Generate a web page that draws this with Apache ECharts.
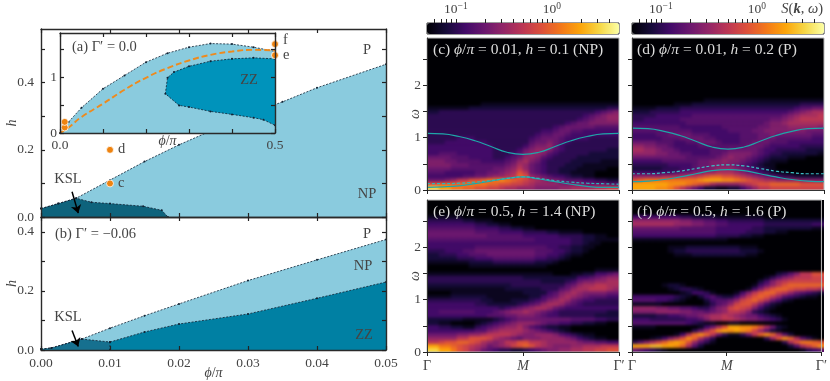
<!DOCTYPE html>
<html>
<head>
<meta charset="utf-8">
<style>
html,body{margin:0;background:#fff}
#stage{position:relative;width:830px;height:381px}
#heatClip{position:absolute;left:0;top:0;width:830px;height:381px;
  clip-path:path('M427 38h192v152h-192z M632 38h192v152h-192z M427 200h192v152h-192z M632 200h192v152h-192z')}
#heat{width:830px;height:381px;filter:blur(1.4px)}
#chart{position:absolute;left:0;top:0;width:830px;height:381px}
</style>
<script src="https://cdn.jsdelivr.net/npm/echarts@6/dist/echarts.min.js"></script>
</head>
<body>
<div id="stage">
<div id="heatClip"><div id="heat"></div></div>
<div id="chart"></div>
</div>
<script>
// phase diagram boundaries [phi/pi, h]
const upperA = [[0,0.025],[0.0025,0.04],[0.0051,0.056],[0.01,0.11],[0.015,0.165],[0.02,0.215],[0.03,0.305],[0.035,0.343],[0.04,0.385],[0.05,0.455]];
const kslA = [[0,0.025],[0.0025,0.04],[0.0051,0.056],[0.0073,0.044],[0.01,0.04],[0.0148,0.032],[0.0175,0.02],[0.0184,0]];
const upperB = [[0,0.003],[0.0015,0.007],[0.0059,0.037],[0.01,0.074],[0.015,0.116],[0.02,0.156],[0.03,0.235],[0.04,0.305],[0.05,0.374]];
const kslB = [[0,0.003],[0.0015,0.007],[0.0059,0.037],[0.01,0.027],[0.01,0]];
const zzB = [[0.01,0.027],[0.015,0.061],[0.02,0.088],[0.03,0.122],[0.04,0.175],[0.05,0.23]];
const insetUpper = [[0,0],[0.02,0.2],[0.05,0.455],[0.1,0.796],[0.15,1.036],[0.2,1.275],[0.25,1.437],[0.3,1.545],[0.35,1.61],[0.4,1.6],[0.45,1.545],[0.5,1.47]];
const insetZZ = [[0.5,1.335],[0.45,1.353],[0.4,1.335],[0.35,1.293],[0.3,1.2],[0.265,1.096],[0.25,0.994],[0.245,0.707],[0.277,0.497],[0.3,0.467],[0.35,0.389],[0.4,0.335],[0.45,0.275],[0.473,0.24],[0.5,0.138]];
const insetClassical = [[0,0],[0.02,0.1],[0.05,0.287],[0.1,0.527],[0.15,0.778],[0.2,0.994],[0.25,1.168],[0.3,1.305],[0.35,1.407],[0.4,1.467],[0.45,1.497],[0.5,1.485]];
const mainPoints = [[0.01,0.2],[0.01,0.1]];
const insetPoints = [[0.011,0.1],[0.011,0.2],[0.5,1.4],[0.5,1.6]];

// magnon branches on the spectra
const pathX = [0,0.083,0.167,0.25,0.333,0.417,0.5,0.583,0.667,0.75,0.833,0.917,1];
const cUpper = [1.08,1.07,1.02,0.94,0.83,0.72,0.68,0.72,0.83,0.94,1.02,1.07,1.08];
const cLower = [0.05,0.06,0.08,0.12,0.17,0.22,0.25,0.21,0.16,0.11,0.07,0.05,0.05];
const cDashed = [0.12,0.12,0.13,0.15,0.18,0.22,0.25,0.22,0.18,0.15,0.13,0.12,0.11];
const dUpper = [1.18,1.17,1.12,1.04,0.93,0.82,0.78,0.82,0.93,1.04,1.12,1.17,1.18];
const dLower = [0.16,0.17,0.2,0.25,0.31,0.37,0.39,0.37,0.31,0.25,0.2,0.17,0.16];
const dDashed = [0.31,0.31,0.33,0.36,0.41,0.46,0.48,0.46,0.41,0.36,0.33,0.31,0.31];

// spectra, 40 rows from omega=2.9 down to 0, 32 columns from Gamma to Gamma'
// one base-21 digit per cell, spaces are only for reading
const heatC = ['','','','','','','','','','','','','','','','','',
'00000000 01111111 11111111 11111111',
'11111112 22222222 22222222 22222233',
'22333333 33333333 33333333 33334567',
'33333333 33333333 33333333 33456788',
'33333333 33333333 33333333 34567788',
'33333333 33333333 33333334 56677777',
'33333333 33333333 33333456 66665555',
'33333333 33333333 33344566 55444444',
'33333333 33333333 33455665 44444444',
'33333444 33333333 34566654 44433333',
'33344444 44333333 35667654 33333333',
'44444444 44433333 46778643 33333333',
'44444444 44433334 67887543 33333322',
'44555444 44433345 78875433 33322222',
'66665554 44433456 88754333 32222222',
'77766555 54444568 97643333 22222111',
'77776665 55555679 86543332 22111111',
'66665555 5556678a 86543322 21111100',
'55544444 5566789c a6543322 11110000',
'44444455 667889ad c8765443 22110000',
'66678aac cdeefedc ba987765 55443322',
'ccddddee eeddccbb a9888877 77666655',
'iiggeedd ccbba998 88777788 9999aabb'];
const heatD = ['','','','','','','','','','','','','','','','',
'00000000 00001111 11111111 11111111',
'00000001 11222222 22222222 22223333',
'11112222 33333333 33333333 33345566',
'22233333 44444444 44444444 44567899',
'33334444 44555555 55555555 5678999a',
'33444444 55555555 55555556 6789aaaa',
'44444444 45555555 55555567 78999999',
'55555555 44444445 55555667 77888887',
'55555555 55444444 55556677 77777666',
'44445566 66555444 44555667 66666655',
'44444555 66665544 44555666 55555544',
'66665554 45566654 44556665 55444444',
'88776654 44455555 55566654 44443333',
'99887665 44444555 66666544 33333222',
'88887766 55444556 77776543 32222221',
'66666666 65555567 87765432 22111000',
'44444555 55566778 77654321 11000000',
'33333344 44566777 76543211 00000000',
'22222333 44566788 87654321 00000000',
'44444445 66778899 98765432 11000000',
'88888999 9aabcddc cba98765 43322222',
'cdeeeeee eeefgggf fedcba99 88887777',
'ggggggff fedcb988 889abccd ddddcccc',
'ggggffec a8642211 22468aab bbbbbbbb'];
const heatE = ['','','','',
'11111100 00000000 00000000 00000000',
'33333322 11100000 00000000 00000000',
'44444444 33221100 00000000 00000000',
'55555555 44443322 11000000 00000000',
'66666666 55554444 33332211 11000000',
'66666666 66555555 44444433 33221100',
'55555555 55555555 55444444 33221111',
'44444444 44444444 44444444 33211000',
'44444444 55555555 55554433 22110000',
'33344455 66666666 66555443 22100000',
'22333445 55666666 66554432 11000000',
'22222333 44455555 55443321 00000000',
'11111112 22233333 33222100 00000000',
'00000001 11111111 11110000 00000000',
'00000000 00000000 00000000 00001111',
'11111111 11111111 11111000 11224456',
'33333333 33333333 22222222 24456788',
'33333333 33333333 33322223 46778899',
'22222222 22222233 33333335 6899aa99',
'11111111 11111222 22233356 899aaa98',
'00001111 11111111 22224578 98777766',
'11112222 22111111 12245689 87655544',
'33333333 32211122 23457898 65443333',
'44444444 33222223 45689986 54333333',
'44444444 44443456 78998654 44444444',
'44555555 44456788 98765433 33333322',
'44444444 44555667 77654433 33332222',
'22222211 11123456 66666666 55554433',
'22110000 12345678 88765544 33221100',
'44332211 34567889 75432211 00000000',
'44444444 55789999 87654321 00000000',
'66666778 89aaaa98 77888754 32110000',
'88888aac ccb98765 77788887 64321100',
'aabccddc b9878aac caa98888 87665544',
'ggeedcba 986789bc dca98777 88999aaa',
'iiggecb9 86543322 34567788 99aabbcc'];
const heatF = ['','','','',
'44444444 33222211 11111100 00000000',
'88888888 77665544 33333322 22222222',
'99999998 88776655 44444433 33333344',
'66666666 55555544 44443322 22222211',
'55555555 55555544 44433322 11000000',
'44444444 44444433 33221100 00000000',
'11111111 11111111 00000000 00000000',
'',
'00000011 12222222 22111000 00000000',
'00000012 23333333 33222100 00000000',
'00000001 11222222 22211000 00000000',
'','','','',
'00000000 00000000 00000000 2357aacc',
'00000000 00000000 00000013 578aaabb',
'00000000 00000000 00000247 9abbbbbb',
'00000122 10000000 00001468 acdddddd',
'00000012 33210000 000147ac ddcbbaa9',
'00000000 12443100 0147acdd ba865432',
'44444443 21024532 247acdca 85432110',
'55554432 10002455 68bcdb96 42100000',
'11111000 00001356 8bcca742 10000000',
'88887766 55433578 bcba7421 00000000',
'77778888 77665678 aa973210 00000000',
'22223344 5667899a 98766432 10000000',
'44433333 3445799a a9877654 31000000',
'55555555 54321100 11000000 00000000',
'11110000 0001469c ggffec96 21000000',
'00000000 00369cfg fgfeb852 10000000',
'00000001 49dfda63 1136adfd 95200000',
'00012479 cfd96300 00000038 cfd95310',
'3579bdfg fc853100 00000000 039ceedc',
'ggghhggf d9520000 00000000 00259bdf',
'65432100 00000000 00000000 00001345'];

const hTicksA = [0,0.1,0.2,0.3,0.4,0.5];
const hLabelsA = [0,0.2,0.4];
const hTicksB = [0,0.1,0.2,0.3,0.4];
const hLabelsB = [0,0.2,0.4];
const phiTicks = [0,0.01,0.02,0.03,0.04,0.05];
const insetXTicks = [0,0.1,0.2,0.3,0.4,0.5];
const insetXLabels = [0,0.5];
const insetYTicks = [0,0.5,1,1.5];
const insetYLabels = [0,1];
const omegaTicks = [0,0.5,1,1.5,2,2.5];
const omegaLabels = [0,1,2];
const pathTicks = [0,0.5,1];
const cbarTicks = [0.06,0.07,0.08,0.09,0.1,0.2,0.3,0.4,0.5,0.6,0.7,0.8,0.9,1,2,3,4];
const cbarLabels = [0.1,1];
const inferno = ['#000004','#160b39','#420a68','#6a176e','#932667','#bc3754','#dd513a','#f37819','#fca50a','#f6d746','#fcffa4'];

const serif = 'Liberation Serif';
const ink = '#444';
const mathRich = {
    i: {fontFamily: serif, fontStyle: 'italic', fontSize: 14, color: ink},
    b: {fontFamily: serif, fontStyle: 'italic', fontWeight: 'bold', fontSize: 14, color: ink}
};

let grids = [], xAxes = [], yAxes = [], series = [], graphics = [];

function addGrid(left, top, width, height, border) {
    grids.push({left: left, top: top, width: width, height: height, show: !!border, borderColor: border, borderWidth: 1, backgroundColor: 'transparent'});
    return grids.length - 1;
}

// box of four axes with ticks pointing in, used for the phase diagrams
function framed(g, xr, yr, o) {
    const line = {show: true, onZero: false, lineStyle: {color: '#2a2a2a', width: 1.4}};
    const tick = (vals) => ({show: true, inside: true, length: 4, lineStyle: {color: '#222', width: 1.2}, customValues: vals});
    const text = {fontFamily: serif, fontSize: 13.5, color: ink};
    const x = xAxes.length, y = yAxes.length;
    xAxes.push({type: 'value', gridIndex: g, position: 'bottom', min: xr[0], max: xr[1], z: o.z, axisLine: line, axisTick: tick(o.xt), splitLine: {show: false},
        axisLabel: o.xl ? Object.assign({show: true, margin: o.xm, customValues: o.xl, formatter: (v) => v.toFixed(o.xd)}, text) : {show: false},
        name: o.xn, nameLocation: 'middle', nameGap: o.xg, nameMoveOverlap: false, nameTextStyle: {rich: mathRich, fontFamily: serif, fontSize: 14, color: ink}});
    xAxes.push({type: 'value', gridIndex: g, position: 'top', min: xr[0], max: xr[1], z: o.z, axisLine: line, axisTick: tick(o.xt), axisLabel: {show: false}, splitLine: {show: false}});
    yAxes.push({type: 'value', gridIndex: g, position: 'left', min: yr[0], max: yr[1], z: o.z, axisLine: line, axisTick: tick(o.yt), splitLine: {show: false},
        axisLabel: Object.assign({show: true, margin: o.ym, customValues: o.yl, formatter: (v) => v.toFixed(o.yd)}, text),
        name: o.yn, nameLocation: 'middle', nameGap: o.yg, nameRotate: 90, nameMoveOverlap: false, nameTextStyle: {fontFamily: serif, fontStyle: 'italic', fontSize: 14, color: ink}});
    yAxes.push({type: 'value', gridIndex: g, position: 'right', min: yr[0], max: yr[1], z: o.z, axisLine: line, axisTick: tick(o.yt), axisLabel: {show: false}, splitLine: {show: false}});
    return {x: x, y: y};
}

function region(ax, pts, fill, z) {
    series.push({type: 'custom', xAxisIndex: ax.x, yAxisIndex: ax.y, z: z, silent: true, clip: false, data: pts,
        renderItem: (params, api) => {
            if (params.dataIndex !== 0) return;
            return {type: 'polygon', shape: {points: pts.map((p) => api.coord(p))}, style: {fill: fill}};
        }});
}

function boundary(ax, pts, z, arrow) {
    const s = {type: 'line', xAxisIndex: ax.x, yAxisIndex: ax.y, z: z, silent: true, data: pts, symbol: 'circle', symbolSize: 2,
        itemStyle: {color: '#123'}, lineStyle: {color: '#123', width: 0.8, type: [2, 1.5]}};
    if (arrow) {
        s.markLine = {silent: true, symbol: ['none', 'arrow'], symbolSize: 8, animation: false, label: {show: false},
            lineStyle: {color: '#000', width: 1.5, type: 'solid'}, data: [[{coord: arrow[0]}, {coord: arrow[1]}]]};
    }
    series.push(s);
}

function dots(ax, pts, z) {
    series.push({type: 'scatter', xAxisIndex: ax.x, yAxisIndex: ax.y, z: z, silent: true, clip: true, data: pts, symbolSize: 7,
        itemStyle: {color: '#ee8310', opacity: 1, borderColor: '#fff', borderWidth: 0.8}});
}

// axes of a spectrum panel, the cells themselves go on the blurred chart below
function spectrumAxes(g, labelled, showOmega) {
    const line = {show: true, onZero: false, lineStyle: {color: '#333', width: 1}};
    const vx = xAxes.length, vy = yAxes.length;
    xAxes.push({type: 'value', gridIndex: g, position: 'bottom', min: 0, max: 1, z: 5, axisLine: line, splitLine: {show: false},
        axisTick: {show: true, length: 4, lineStyle: {color: '#222'}, customValues: pathTicks},
        axisLabel: labelled ? {show: true, margin: 7, customValues: pathTicks, fontFamily: serif, fontSize: 14, color: ink, rich: mathRich,
            formatter: (v) => v === 0 ? 'Γ' : (v === 1 ? 'Γ′' : '{i|M}')} : {show: false}});
    yAxes.push({type: 'value', gridIndex: g, position: 'left', min: 0, max: 2.9, z: 5, axisLine: line, splitLine: {show: false},
        axisTick: {show: true, length: 4, lineStyle: {color: '#222'}, customValues: omegaTicks},
        axisLabel: showOmega ? {show: true, margin: 6, customValues: omegaLabels, fontFamily: serif, fontSize: 13.5, color: ink, formatter: (v) => String(v)} : {show: false},
        name: showOmega ? 'ω' : '', nameLocation: 'middle', nameGap: 5, nameRotate: 90, nameMoveOverlap: false, nameTextStyle: {fontFamily: serif, fontStyle: 'italic', fontSize: 14, color: ink}});
    return {x: vx, y: vy};
}

function branch(ax, vals, color, dashed) {
    series.push({type: 'line', xAxisIndex: ax.x, yAxisIndex: ax.y, z: 3, silent: true, smooth: true, showSymbol: false,
        data: pathX.map((x, i) => [x, vals[i]]),
        lineStyle: {color: color, width: 1.2, type: dashed ? [3, 2] : 'solid'}});
}

function colorbar(g) {
    xAxes.push({type: 'value', gridIndex: g, position: 'top', min: Math.log10(0.05), max: Math.log10(5), z: 6,
        axisLine: {show: false, onZero: false}, splitLine: {show: false},
        axisTick: {show: true, length: 4, lineStyle: {color: '#222'}, customValues: cbarTicks.map(Math.log10)},
        axisLabel: {show: true, margin: 6, customValues: cbarLabels.map(Math.log10), fontFamily: serif, fontSize: 13.5, color: ink,
            rich: {s: {fontFamily: serif, fontSize: 9.5, color: ink, verticalAlign: 'top', padding: [0, 0, 6, 0]}},
            formatter: (v) => Math.abs(v) < 0.01 ? '10{s|0}' : '10{s|−1}'}});
    yAxes.push({type: 'value', gridIndex: g, min: 0, max: 1, show: false});
}

function label(x, y, text, opt) {
    opt = opt || {};
    const size = opt.size || 14.5, color = opt.color || ink;
    graphics.push({type: 'text', x: x, y: y, z: 20, silent: true, style: {
        text: text, fontFamily: serif, fontSize: size, fill: color, align: opt.align || 'left', verticalAlign: 'middle',
        rich: {
            i: {fontFamily: serif, fontStyle: 'italic', fontSize: size, fill: color, color: color},
            b: {fontFamily: serif, fontStyle: 'italic', fontWeight: 'bold', fontSize: size, fill: color, color: color}
        }
    }});
}

// panel (a) and its inset
const gA = addGrid(41, 29, 345, 188);
const axA = framed(gA, [0, 0.05], [0, 0.56], {z: 3, xt: phiTicks, yt: hTicksA, yl: hLabelsA, yd: 1, ym: 7, yn: 'h', yg: 22});
region(axA, upperA.concat([[0.05, 0], [0, 0]]), '#8acbde', 2);
region(axA, kslA.concat([[0, 0]]), '#0e637c', 2);
boundary(axA, upperA, 2);
boundary(axA, kslA, 2, [[0.0045, 0.075], [0.0054, 0.0115]]);
dots(axA, mainPoints, 3);

const gIn = addGrid(60, 33, 215, 100);
const axIn = framed(gIn, [0, 0.5], [0, 1.8], {z: 8, xt: insetXTicks, xl: insetXLabels, xd: 1, xm: 5, xn: '{i|ϕ}/{i|π}', xg: 1, yt: insetYTicks, yl: insetYLabels, yd: 0, ym: 3});
region(axIn, [[0, 0], [0.5, 0], [0.5, 1.8], [0, 1.8]], '#fff', 4);
region(axIn, insetUpper.concat([[0.5, 0]]), '#8acbde', 5);
region(axIn, insetZZ, '#0093bb', 5);
boundary(axIn, insetUpper, 6);
boundary(axIn, insetZZ, 6);
series.push({type: 'line', xAxisIndex: axIn.x, yAxisIndex: axIn.y, z: 7, silent: true, smooth: true, showSymbol: false, data: insetClassical,
    lineStyle: {color: '#ee8a1d', width: 1.9, type: [6, 3]}});
dots(axIn, insetPoints, 7);

// panel (b)
const gB = addGrid(41, 217, 345, 133);
const axB = framed(gB, [0, 0.05], [0, 0.45], {z: 3, xt: phiTicks, xl: phiTicks, xd: 2, xm: 6, xn: '{i|ϕ}/{i|π}', xg: 16, yt: hTicksB, yl: hLabelsB, yd: 1, ym: 7, yn: 'h', yg: 22});
region(axB, upperB.concat([[0.05, 0], [0, 0]]), '#8acbde', 2);
region(axB, zzB.concat([[0.05, 0], [0.01, 0]]), '#0080a3', 2);
region(axB, kslB.concat([[0, 0]]), '#16708f', 2);
boundary(axB, upperB, 2);
boundary(axB, zzB, 2);
boundary(axB, kslB, 2, [[0.0045, 0.066], [0.0054, 0.012]]);

// spectra
const axC = spectrumAxes(addGrid(427, 38, 192, 152, '#bbb'), false, true);
const axD = spectrumAxes(addGrid(632, 38, 192, 152, '#bbb'), false, false);
spectrumAxes(addGrid(427, 200, 192, 152, '#bbb'), true, true);
spectrumAxes(addGrid(632, 200, 192, 152, '#bbb'), true, false);
branch(axC, cUpper, '#1fa6a8');
branch(axC, cLower, '#1fa6a8');
branch(axC, cDashed, '#2bb6bb', true);
branch(axD, dUpper, '#1fa6a8');
branch(axD, dLower, '#1fa6a8');
branch(axD, dDashed, '#3cc0c6', true);

// colour bars
colorbar(addGrid(427, 23, 192, 11, '#333'));
colorbar(addGrid(632, 23, 192, 11, '#333'));

const vm = (left) => ({type: 'continuous', min: 0, max: 20, seriesIndex: [], orient: 'horizontal', left: left, top: 23, padding: 0,
    itemWidth: 11, itemHeight: 192, calculable: false, hoverLink: false, inRange: {color: inferno}});

// texts
label(72, 47, '(a) Γ′ = 0.0');
label(283, 40, 'f');
label(283, 55, 'e');
label(249, 80, 'ZZ', {align: 'center'});
label(367, 50, 'P', {align: 'center'});
label(367, 194, 'NP', {align: 'center'});
label(118, 149, 'd');
label(118, 183, 'c');
label(68, 179, 'KSL', {align: 'center'});
label(55, 234, '(b) Γ′ = −0.06');
label(367, 234, 'P', {align: 'center'});
label(363, 266, 'NP', {align: 'center'});
label(364, 335, 'ZZ', {align: 'center'});
label(68, 317, 'KSL', {align: 'center'});
const lightText = {color: '#dcdcdc', size: 15.5};
label(433, 50, '(c) {i|ϕ}/{i|π} = 0.01, {i|h} = 0.1 (NP)', lightText);
label(637, 50, '(d) {i|ϕ}/{i|π} = 0.01, {i|h} = 0.2 (P)', lightText);
label(433, 212, '(e) {i|ϕ}/{i|π} = 0.5, {i|h} = 1.4 (NP)', lightText);
label(637, 212, '(f) {i|ϕ}/{i|π} = 0.5, {i|h} = 1.6 (P)', lightText);
label(823, 9, '{i|S}({b|k}, {i|ω})', {align: 'right', size: 14.5});

const chart = echarts.init(document.getElementById('chart'), null, {renderer: 'canvas'});
chart.setOption({
    animation: false,
    backgroundColor: 'transparent',
    grid: grids,
    xAxis: xAxes,
    yAxis: yAxes,
    visualMap: [vm(427), vm(632)],
    series: series,
    graphic: graphics
});

// the cells sit on their own chart so the page can soften them; one spare
// cell is repeated on each side so the blur does not fade out at the panel edge
const panels = [[heatC, 427, 38], [heatD, 632, 38], [heatE, 427, 200], [heatF, 632, 200]];
const cols = Array.from({length: 34}, (_, i) => i);
const rowIds = Array.from({length: 42}, (_, i) => i);
const heatOption = {animation: false, backgroundColor: '#000', grid: [], xAxis: [], yAxis: [], series: [],
    visualMap: {type: 'continuous', show: false, min: 0, max: 20, dimension: 2, inRange: {color: inferno}}};
panels.forEach((p, idx) => {
    heatOption.grid.push({left: p[1] - 6, top: p[2] - 3.8, width: 204, height: 159.6});
    heatOption.xAxis.push({type: 'category', gridIndex: idx, data: cols, show: false});
    heatOption.yAxis.push({type: 'category', gridIndex: idx, data: rowIds, show: false});
    const rows = [p[0][0]].concat(p[0], [p[0][p[0].length - 1]]);
    const data = [];
    rows.forEach((row, r) => {
        const s = row.replace(/\s/g, '');
        cols.forEach((c) => {
            const k = Math.min(Math.max(c - 1, 0), 31);
            data.push([c, rows.length - 1 - r, parseInt(s.charAt(k), 21) || 0]);
        });
    });
    heatOption.series.push({type: 'heatmap', xAxisIndex: idx, yAxisIndex: idx, silent: true, progressive: 0, data: data});
});
echarts.init(document.getElementById('heat'), null, {renderer: 'canvas'}).setOption(heatOption);
</script>
</body>
</html>
